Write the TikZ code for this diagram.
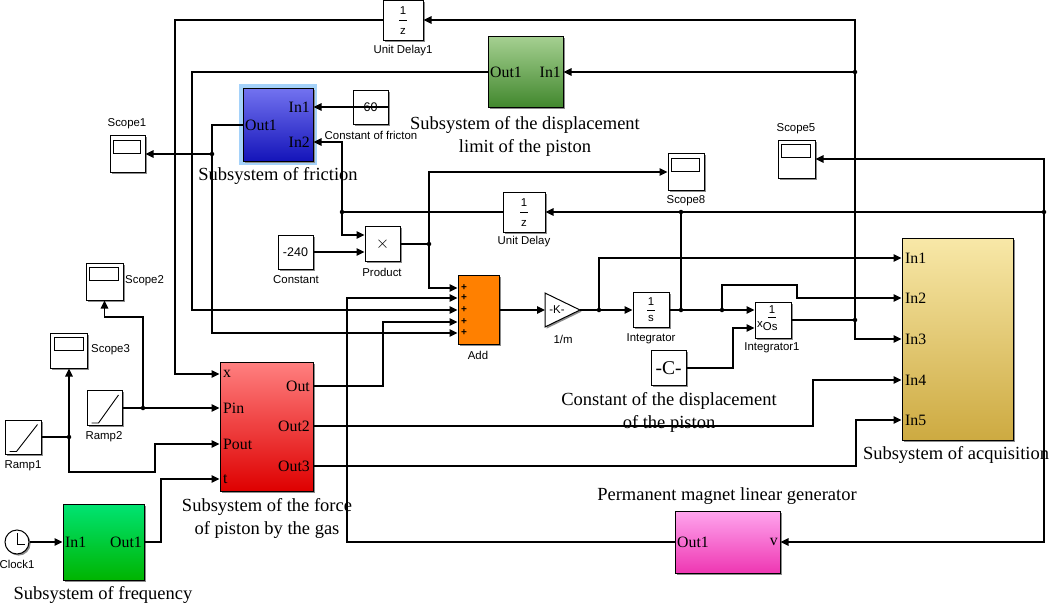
\documentclass[tikz,border=0pt]{standalone}
\usepackage{fontspec}
\setmainfont{Liberation Serif}
\setsansfont{Liberation Sans}
\usetikzlibrary{arrows.meta,calc,shadows}
\definecolor{fricT}{RGB}{115,115,240}
\definecolor{fricB}{RGB}{20,20,185}
\definecolor{glow}{RGB}{165,210,250}
\definecolor{dispT}{RGB}{165,208,145}
\definecolor{dispB}{RGB}{65,135,45}
\definecolor{redT}{RGB}{255,128,128}
\definecolor{redB}{RGB}{222,0,0}
\definecolor{freqT}{RGB}{0,228,115}
\definecolor{freqB}{RGB}{0,180,0}
\definecolor{pinkT}{RGB}{255,165,238}
\definecolor{pinkB}{RGB}{238,55,178}
\definecolor{acqT}{RGB}{248,232,168}
\definecolor{acqB}{RGB}{205,170,65}
\definecolor{addC}{RGB}{255,128,0}
\newcommand{\cnum}{\sffamily\fontsize{12.5}{12.5}\selectfont}
\newcommand{\scopeicon}[1]{\draw[line width=0.8pt] ($(#1.north west)+(4,5)$) rectangle ($(#1.north east)+(-5,18)$);}
\newcommand{\rampicon}[1]{\draw[line width=0.9pt] ($(#1.south west)+(5,-3)$) -- ($(#1.south west)+(12,-3)$) -- ($(#1.north east)+(-4,5)$);}
\newcommand{\fracin}[3]{%
  \node[lbl] at ($(#1.center)+(0,-9)$) {#2};
  \draw[line width=0.7pt] ($(#1.center)+(-4,0)$) -- ++(8,0);
  \node[lbl] at ($(#1.center)+(0,11)$) {#3};}
\begin{document}
\begin{tikzpicture}[x=1pt,y=-1pt,
  sig/.style={line width=1.2pt,-{Triangle[length=8pt,width=7.5pt]}},
  wire/.style={line width=1.2pt},
  blk/.style={draw,line width=1pt,fill=white,inner sep=0pt,
    drop shadow={shadow xshift=1.6pt,shadow yshift=-1.6pt,fill=black!45,opacity=1}},
  lbl/.style={font=\sffamily\fontsize{11.4}{13}\selectfont,inner sep=0pt},
  captxt/.style={font=\fontsize{18.5}{23}\selectfont,align=center,inner sep=0pt},
  porttxt/.style={font=\fontsize{15.8}{16}\selectfont,inner sep=0pt},
  plussign/.style={font=\sffamily\bfseries\fontsize{10}{10}\selectfont,inner sep=0pt},
  jdot/.style={circle,fill,inner sep=0pt,minimum size=4.5pt},
]
\fill[white] (0,0) rectangle (1052,605);
\useasboundingbox (0,0) rectangle (1052,605);

% ---------- blocks ----------
\node[blk,minimum width=40pt,minimum height=40pt] (ud1) at (403,20) {};
\node[blk,top color=dispT,bottom color=dispB,minimum width=75pt,minimum height=71pt] (disp) at (525.5,72) {};
\fill[glow] (239,84) rectangle (317,165);
\node[blk,top color=fricT,bottom color=fricB,minimum width=70pt,minimum height=73pt] (fric) at (278,124.5) {};
\node[blk,minimum width=35pt,minimum height=34pt,font=\cnum] (c60) at (370.5,107) {60};
\node[blk,minimum width=35pt,minimum height=37pt] (scope1) at (127.5,154) {};
\node[blk,minimum width=36pt,minimum height=37pt] (scope8) at (686,172) {};
\node[blk,minimum width=37pt,minimum height=38pt] (scope5) at (796.5,159) {};
\node[blk,minimum width=42pt,minimum height=40pt] (ud) at (524,212) {};
\node[blk,minimum width=35pt,minimum height=34pt,font=\cnum] (c240) at (295.5,252) {-240};
\node[blk,minimum width=35pt,minimum height=35pt] (prod) at (382.5,244) {\fontsize{17}{17}\selectfont$\times$};
\node[blk,fill=addC,minimum width=41pt,minimum height=69pt] (add) at (478.5,310) {};
\fill[black!45] (546.6,294.6) -- (581.6,311.6) -- (546.6,328.6) -- cycle;
\draw[line width=1pt,fill=white] (545,293) -- (580,310) -- (545,327) -- cycle;
\coordinate (gainin) at (545,310);
\coordinate (gainout) at (580,310);
\node[lbl] (gain) at (557,310) {-K-};
\node[blk,minimum width=36pt,minimum height=35pt] (integ) at (651,310) {};
\node[blk,minimum width=36pt,minimum height=36pt] (integ1) at (773,320) {};
\node[blk,minimum width=35pt,minimum height=35pt,font=\fontsize{19.5}{19.5}\selectfont] (cc) at (668.5,368) {-C-};
\node[blk,top color=acqT,bottom color=acqB,minimum width=111pt,minimum height=202pt] (acq) at (957.5,339) {};
\node[blk,minimum width=37pt,minimum height=37pt] (scope2) at (104.5,281.5) {};
\node[blk,minimum width=37pt,minimum height=35pt] (scope3) at (69,350.5) {};
\node[blk,minimum width=35pt,minimum height=35pt] (ramp2) at (104.5,408) {};
\node[blk,minimum width=36pt,minimum height=34pt] (ramp1) at (23,437) {};
\node[blk,top color=redT,bottom color=redB,minimum width=93pt,minimum height=129pt] (red) at (266.5,426.5) {};
\node[blk,circle,minimum size=24pt] (clock) at (17,542) {};
\node[blk,top color=freqT,bottom color=freqB,minimum width=81pt,minimum height=76pt] (freq) at (103.5,542) {};
\node[blk,top color=pinkT,bottom color=pinkB,minimum width=105pt,minimum height=62pt] (pink) at (727.5,542) {};

% ---------- icons and inner texts ----------
\fracin{ud1}{1}{z}
\fracin{ud}{1}{z}
\node[lbl] at ($(integ.center)+(0,-8)$) {1};
\draw[line width=0.7pt] ($(integ.center)+(-4,0)$) -- ++(8,0);
\node[lbl] at ($(integ.center)+(0,8)$) {s};
\node[lbl] at (772,310) {1};
\draw[line width=0.7pt] (768,317) -- ++(8,0);
\node[lbl,anchor=west] at (757,326) {x\raisebox{-2.5pt}{Os}};
\scopeicon{scope1}
\scopeicon{scope2}
\scopeicon{scope3}
\scopeicon{scope5}
\scopeicon{scope8}
\rampicon{ramp1}
\rampicon{ramp2}
\draw[line width=0.9pt] ($(clock.center)+(0,-9)$) -- ($(clock.center)+(0,2)$) -- ($(clock.center)+(8,2)$);
\foreach \yy in {288,298,310,322,333} \node[plussign] at (464,\yy) {+};

% ports
\node[porttxt,anchor=west] at (490,72) {Out1};
\node[porttxt,anchor=east] at (561,72) {In1};
\node[porttxt,anchor=east] at (310,107) {In1};
\node[porttxt,anchor=east] at (310,142) {In2};
\node[porttxt,anchor=west] at (245,125) {Out1};
\node[porttxt,anchor=west] at (223,374) {x};
\node[porttxt,anchor=west] at (223,408) {Pin};
\node[porttxt,anchor=west] at (223,444) {Pout};
\node[porttxt,anchor=west] at (223,479) {t};
\node[porttxt,anchor=east] at (310,386) {Out};
\node[porttxt,anchor=east] at (310,426) {Out2};
\node[porttxt,anchor=east] at (310,466) {Out3};
\node[porttxt,anchor=west] at (65,542) {In1};
\node[porttxt,anchor=east] at (142,542) {Out1};
\foreach \yy/\tt in {258/In1,298/In2,339/In3,380/In4,420/In5} \node[porttxt,anchor=west] at (905,\yy) {\tt};
\node[porttxt,anchor=west] at (677,542) {Out1};
\node[porttxt,anchor=east] at (778,542) {v};

% ---------- labels ----------
\node[lbl] at (403,51) {Unit Delay1};
\node[lbl] at (371,135) {Constant of fricton};
\node[lbl] at (127,124) {Scope1};
\node[lbl] at (686,201) {Scope8};
\node[lbl] at (796,129) {Scope5};
\node[lbl] at (524,242) {Unit Delay};
\node[lbl] at (296,280) {Constant};
\node[lbl] at (382,272) {Product};
\node[lbl] at (478,355) {Add};
\node[lbl] at (563,339) {1/m};
\node[lbl] at (651,339) {Integrator};
\node[lbl] at (772,348) {Integrator1};
\node[lbl,anchor=west] at (125,281) {Scope2};
\node[lbl,anchor=west] at (91,350) {Scope3};
\node[lbl] at (104,437) {Ramp2};
\node[lbl] at (23,466) {Ramp1};
\node[lbl] at (17,564) {Clock1};
\node[captxt] at (525,136) {Subsystem of the displacement\\limit of the piston};
\node[captxt] at (278,176) {Subsystem of friction};
\node[captxt] at (669,412) {Constant of the displacement\\of the piston};
\node[captxt] at (956,455) {Subsystem of acquisition};
\node[captxt] at (727,496) {Permanent magnet linear generator};
\node[captxt] at (267,518) {Subsystem of the force\\of piston by the gas};
\node[captxt] at (103,595) {Subsystem of frequency};

% ---------- connectors ----------
\draw[wire] (integ1.east) -- (855,320);
\draw[sig] (855,320) -- (855,339) -- (acq.west |- 0,339);
\draw[sig] (855,320) -- (855,20) -- (ud1.east);
\draw[sig] (855,72) -- (disp.east);
\draw[sig] (ud1.west) -- (175,20) -- (175,374) -- (red.west |- 0,374);
\draw[sig] (disp.west) -- (192,72) -- (192,310) -- (add.west |- 0,310);
\draw[sig] (fric.west |- 0,125) -- (212,125) -- (212,333) -- (add.west |- 0,333);
\draw[sig] (212,154) -- (scope1.east);
\draw[sig] (c60.east) -- (fric.east |- c60.east);
\draw[sig] (ud.west) -- (342,212) -- (342,142) -- (fric.east |- 0,142);
\draw[sig] (342,212) -- (342,235) -- (prod.west |- 0,235);
\draw[sig] (c240.east) -- (prod.west |- c240.east);
\draw[wire] (prod.east) -- (429,244);
\draw[sig] (429,244) -- (429,172) -- (scope8.west);
\draw[sig] (429,244) -- (429,288) -- (add.west |- 0,288);
\draw[sig] (pink.west) -- (347,542) -- (347,298) -- (add.west |- 0,298);
\draw[sig] (red.east |- 0,386) -- (383,386) -- (383,322) -- (add.west |- 0,322);
\draw[sig] (add.east) -- (gainin);
\draw[sig] (gainout) -- (integ.west);
\draw[sig] (599,310) -- (599,258) -- (acq.west |- 0,258);
\draw[sig] (integ.east) -- (integ1.west |- 0,310);
\draw[wire] (681,310) -- (681,212);
\draw[sig] (722,310) -- (722,285) -- (797,285) -- (797,298) -- (acq.west |- 0,298);
\draw[sig] (1044,212) -- (ud.east);
\draw[sig] (1044,212) -- (1044,159) -- (scope5.east);
\draw[sig] (1044,212) -- (1044,542) -- (pink.east);
\draw[sig] (cc.east) -- (733,368) -- (733,328) -- (integ1.west |- 0,328);
\draw[sig] (red.east |- 0,426) -- (813,426) -- (813,380) -- (acq.west |- 0,380);
\draw[sig] (red.east |- 0,466) -- (856,466) -- (856,420) -- (acq.west |- 0,420);
\draw[sig] (ramp2.east) -- (red.west |- ramp2.east);
\draw[sig] (143,408) -- (143,317) -- (104.5,317) -- (scope2.south);
\draw[wire] (ramp1.east) -- (69,437);
\draw[sig] (69,437) -- (scope3.south);
\draw[sig] (69,437) -- (69,472) -- (155,472) -- (155,444) -- (red.west |- 0,444);
\draw[sig] (clock.east) -- (freq.west);
\draw[sig] (freq.east) -- (161,542) -- (161,479) -- (red.west |- 0,479);

\foreach \p in {(855,320),(855,72),(212,154),(342,212),(429,244),(599,310),(681,310),(722,310),(681,212),(1044,212),(143,408),(69,437)}
  \node[jdot] at \p {};
\end{tikzpicture}
\end{document}
